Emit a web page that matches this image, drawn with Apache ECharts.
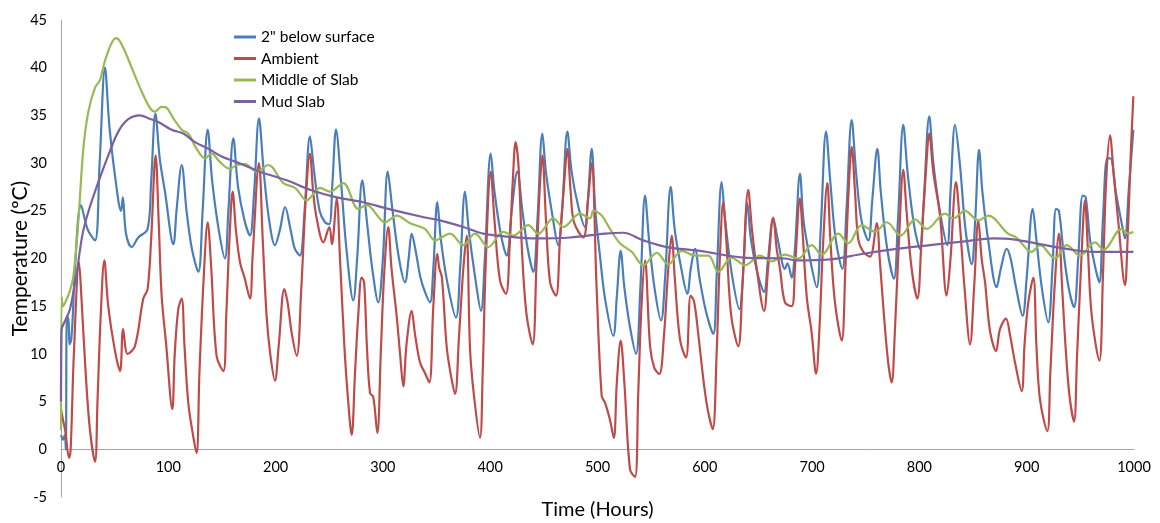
<!DOCTYPE html>
<html>
<head>
<meta charset="utf-8">
<script src="https://cdn.jsdelivr.net/npm/echarts@6/dist/echarts.min.js"></script>
<style>
html,body{margin:0;padding:0;background:#fff;}
#chart{width:1160px;height:523px;}
</style>
</head>
<body>
<div id="chart"></div>
<script>
var seriesNames = ['2" below surface', 'Ambient', 'Middle of Slab', 'Mud Slab'];
var xTicks = [0, 100, 200, 300, 400, 500, 600, 700, 800, 900, 1000];
var yTicks = [-5, 0, 5, 10, 15, 20, 25, 30, 35, 40, 45];

var surface2in = [[0,1.5],[2,1],[3.5,1.5],[4.5,0],[5.5,14],[7,13.5],[8,11],[9.5,11.5],[11,14],[13,19],[18.6,25.6],[25,23],[31.7,21.9],[36,30],[41,40],[45,34],[50.3,28.7],[56,25],[57.6,26.4],[60.6,22.6],[65.9,21.2],[72,22.2],[80.7,23.1],[84,28],[88,35.2],[92,30.5],[96.9,27],[104.7,21.5],[107.8,25.2],[112.5,29.8],[117,25],[122,21],[128,18.6],[132,25],[136.7,33.5],[141,28],[147,23],[152.8,20],[156,25],[160.6,32.6],[165,27.5],[171,24],[176.1,22.4],[180,27],[184.5,34.7],[189,29],[194,24],[199.4,21.4],[204,23],[208.8,25.4],[214,23],[218,21],[222.7,20.3],[227,25],[232,32.8],[236,29],[241,25],[246,23.8],[250,23.6],[253,28],[256.3,33.5],[261,28],[266,21],[272.4,15.6],[276,20],[280.8,28.2],[285,24],[290,19],[295.7,15.4],[300,20],[304.5,29.1],[309,25],[315,20],[320.6,17.5],[324,20],[326.8,22.6],[331,20.5],[335,18],[339.2,16.5],[343.9,15.4],[347,19],[350.7,25.9],[354,22],[360,17.5],[368.1,13.8],[372,19],[376.5,27],[380,23],[386,18],[391.4,14.5],[395,20],[400.5,31],[404,27],[410,22.5],[415.4,20.3],[420,25],[425.3,29.1],[430,25],[435,21],[440.2,18.6],[444,24],[448.6,33.1],[452,29],[458,24.5],[463.4,21.4],[467,25],[471.9,33.3],[476,29],[482,25.5],[488.4,23.3],[491,26],[494.6,31.5],[498,25],[502.3,20.3],[507,15.8],[514.7,11.9],[518,16],[521.6,20.8],[525,17],[530,13],[535.9,10],[540,17],[544.3,26.6],[548,22],[553,17],[559.2,13.5],[563,18],[568.2,27.5],[572,23],[578,19],[583.7,16.3],[587,19],[590.9,21],[595,18],[601,14.5],[607.9,12.1],[611,18],[615.7,28],[619,24],[625,18.5],[632.2,14.7],[636,19],[639.6,25.8],[643,22],[649,18.5],[655.2,16.5],[659,20],[663.8,24.2],[668,22],[674.7,18.9],[677,19.5],[681,18],[684,21],[688.7,28.9],[692,24],[698,20],[704.3,17],[708,23],[713,33.3],[717,28],[722,22],[728.2,18.9],[732,25],[736.9,34.5],[741,29],[746,24],[752.4,21.9],[756,26],[760.8,31.5],[764,27],[770,21],[776.3,17.9],[780,24],[785,34],[789,29],[795,23.5],[800.6,21],[804,26],[809.2,34.9],[813,30],[819,25],[826,21.4],[829,27],[833.2,34],[837.8,29.8],[843,23],[848.7,19.4],[852,24],[855.6,31.4],[858.7,27],[864,22],[872,17],[876,19],[881.3,21],[885,20],[890,17],[896.2,14],[900,18],[905.6,25.2],[909,22],[914,17],[920.1,13.3],[924,19],[927.3,25.2],[930,25],[934,21],[939,17],[944.1,14.9],[948,20],[952.2,26.6],[955,26.4],[959,22],[964,19],[967.7,17.5],[971,24],[975.1,30.5],[978,30.5],[983,27],[988,24],[991.6,22.1],[995,27],[999.4,33.5]];

var ambient = [[0,4.2],[2,3],[4,1.9],[7.5,-0.9],[9,0],[12,10],[16.8,19.6],[19,16],[23,8],[27,2],[31.7,-1.3],[34,5],[37,14],[40.4,19.8],[44,15],[50,10.5],[55,8.2],[57.9,12.6],[62.1,10],[68.9,10.8],[76.7,15.8],[80.7,16.8],[84,22],[88.2,30.8],[91,24],[93.8,16.1],[98,11],[103.7,4.2],[106,10],[109.3,14.7],[112.5,15.8],[115,11],[118.6,4.9],[123,1.5],[126.4,-0.4],[129,8],[133,18],[136.7,23.8],[140,19],[145,9.8],[151.3,8.2],[154,14],[157,22],[160,27],[163,23],[166.8,19.6],[171,18],[176.1,15.8],[178.6,20.3],[184.5,30],[188,22],[191.6,14],[195,10],[199.4,7.2],[203,11],[208.1,16.8],[211,15.5],[215,12.2],[219.7,9.8],[224,17],[228,26],[232,31],[235,27],[238.3,24.2],[244.5,21.7],[250.1,23.3],[252.5,21.5],[256.9,26.3],[260,20],[264,11],[267,6],[270.9,1.5],[274,8],[277,14],[280.2,18],[282.5,17.5],[285,11],[288,5.9],[291,5.5],[294.8,1.7],[298,10],[301,18],[305,23.3],[308,19],[312.8,14],[316,10],[319,6.6],[322,11],[326.8,14.5],[330,12],[334.6,9.1],[339.2,8],[343.3,7],[347,15],[350.7,20.5],[352.5,19],[355,18],[359.4,10.8],[363,8],[367.2,5.8],[371,12],[375,19],[378.1,22.4],[381.2,10.5],[385,5.5],[390.5,1.2],[393,8],[396,20],[400.5,29.1],[404,24],[409.1,17.7],[414.7,16.3],[418,21],[421,28],[423.7,32.2],[426.5,29.5],[430,20],[434,14],[439.6,11],[443,19],[446,27],[448.6,30.8],[452,24],[455.8,17.5],[461.3,16.1],[465,22],[469,28],[471.9,31.5],[475,27],[478.1,23.8],[486.8,22.2],[491,26],[494.6,30],[499.2,16.8],[503.9,5.6],[507,4.9],[511.6,3.1],[515.2,1.2],[518,7],[521.6,11.4],[525,7],[530.3,-2.1],[535,-2.9],[538,6],[541,15],[544.3,19.8],[549,10.8],[553,8.5],[557.6,7.9],[562,12],[566,19],[569.1,22.4],[572,18],[576.9,11.5],[582.5,9.6],[586.8,16.1],[590,15.5],[594,12],[599,7],[603,4],[607.4,2.1],[611,10],[614,20],[617.2,25.9],[620,22],[624.6,14],[631.2,10.8],[635,17],[640.5,27.2],[644,23],[648.4,18.9],[655.2,14.5],[659,19],[663.8,24.3],[667,21],[670.1,18.9],[674.7,15.4],[681,15],[684,19],[688.7,26.3],[691,23],[695,16],[699.6,12.2],[703.7,7.9],[707,13],[710,21],[714.2,27.9],[717,22],[721.3,15.4],[727.6,11.4],[731,19],[734,27],[736.9,31.7],[740,27],[743,22],[747.7,20.7],[754,20.2],[760.2,23.7],[763,20],[767,14],[771,9],[774.2,7],[777,12],[781,22],[785,29.3],[788,25],[792.8,18.9],[798.1,15.8],[802,22],[806,29],[809.2,33.1],[813,29],[819.2,24.5],[825.4,16.1],[829,20],[834.1,28],[837.8,23.5],[842,17],[847.2,11],[851,17],[854.9,24],[858,20],[861.2,17.5],[865.8,12.4],[871.4,10.3],[875.1,12.6],[880.7,13.7],[884.4,12],[889.1,9.1],[895.3,6.1],[898,11],[901.5,15.4],[906.2,18],[909,11],[912.4,5.2],[919.2,1.9],[922,8],[926,17],[930.1,22.6],[933,17],[936.6,10.1],[940,5.5],[944.1,2.9],[947,10],[951,20],[954.3,26.1],[957,21],[960.6,14],[967.7,9.3],[971,18],[974,28],[977.6,32.9],[981,29],[985.4,23.8],[991.6,17.2],[994,22],[997,31],[999.4,37]];

var middleSlab = [[0,2],[0.5,16],[2,15],[4,15.4],[8,16.5],[11.6,18.2],[16.1,23.8],[20.8,31.5],[25.5,35.4],[31.7,37.9],[36.3,38.7],[40.9,40.7],[47.2,42.6],[51.8,43.1],[58,42.1],[65.9,40],[75.2,37.5],[82.9,35.8],[87.6,35.4],[93.8,35.9],[98.5,35.8],[104.7,34.7],[112.5,33.5],[118.6,33.1],[126.4,31.5],[134.2,30.5],[140.4,31],[148.2,30.1],[157.5,29.4],[163.7,29.8],[171.6,29.9],[182.4,29.1],[193.2,29.8],[207.2,27.9],[218.1,27.4],[229,26.1],[241.4,27.4],[250.7,27],[263.1,27.9],[277.1,25.2],[284.9,25.6],[302,23.8],[312.8,24.5],[325.3,23.7],[339.2,23.1],[348.6,21.9],[362.5,22.6],[374.9,21.4],[385.8,22.6],[398.2,21.2],[412.2,22.8],[421.5,22.4],[435.5,23.5],[444.8,22.6],[458.8,24.2],[468.1,23.3],[483.7,24.7],[493,24.2],[496.1,25],[503.9,24.5],[511.6,23.1],[520.9,21.6],[531.9,20.7],[542.7,19.3],[555.2,20.6],[566,19.4],[578.5,20.8],[590.9,20.3],[603.3,20.3],[612.6,18.6],[625,20.1],[637.5,19.3],[651.4,20.3],[662.3,19.7],[674.7,20.4],[687.2,20],[699.6,21.4],[708.9,20.4],[724.4,22.6],[733.7,21.6],[746.2,23.5],[758.6,22.8],[769.5,23.8],[782.6,22.4],[795.9,24.1],[806.8,23.1],[823.9,24.7],[831.6,24.2],[842.4,25],[854.9,24],[864.2,24.5],[882.6,22.6],[890.4,22.2],[904.6,20.7],[912.4,21.4],[926.4,20],[937.3,21.4],[949.7,20.3],[963.7,21.7],[971.4,20.9],[988.5,23.1],[994.7,22.6],[999.4,22.8]];

var mudSlab = [[0,5],[0.5,12.5],[4,13.5],[8.4,14.7],[14.6,18.5],[20,22.5],[25.5,24.9],[34.8,28],[44.1,30.8],[53.4,33.3],[62.7,34.6],[73.6,35],[81.4,34.7],[90.7,34.3],[103.1,33.5],[114,33.1],[124.9,32.2],[137.3,31.5],[149.7,30.7],[163.7,30.1],[185.4,29.1],[210.3,28.2],[232,27.2],[256.9,26.4],[281.7,25.9],[305,25.2],[339.2,24.3],[353.2,24],[374.9,23.3],[393.5,22.6],[415.4,22.3],[443.3,22.1],[474.4,22.2],[507,22.6],[524,22.7],[542.7,21.9],[564.5,21.2],[595.5,20.8],[635.9,20.1],[674.7,20],[685.6,19.8],[716.7,19.9],[747.7,20.5],[778.8,21],[809.9,21.4],[842.4,21.8],[868.9,22.1],[887.5,22],[912.4,21.5],[937.3,21],[962.1,20.7],[999.4,20.7]];

var colors = ['#4A7EBB', '#BE4B48', '#98B954', '#7D60A0'];
var FONT = 'Lato, "Open Sans", sans-serif';
var allData = [surface2in, ambient, middleSlab, mudSlab];

var chart = echarts.init(document.getElementById('chart'), null, {renderer: 'canvas'});
chart.setOption({
  animation: false,
  backgroundColor: '#ffffff',
  color: colors,
  grid: {left: 61, right: 26, top: 20, bottom: 26, containLabel: false, outerBoundsMode: 'none'},
  legend: {
    orient: 'vertical',
    left: 229,
    top: 24,
    padding: 5,
    itemWidth: 22,
    itemHeight: 3,
    itemGap: 5.5,
    icon: 'rect',
    textStyle: {fontFamily: FONT, fontSize: 15.5, color: '#000', lineHeight: 15},
    data: seriesNames
  },
  xAxis: {
    type: 'value',
    min: 0, max: 1000, interval: 100,
    offset: -48,
    name: 'Time (Hours)',
    nameLocation: 'middle',
    nameGap: 51,
    nameTextStyle: {fontFamily: FONT, fontSize: 20, color: '#000'},
    axisLine: {show: true, onZero: false, lineStyle: {color: '#A6A6A6', width: 1}},
    axisTick: {show: false},
    splitLine: {show: false},
    axisLabel: {fontFamily: FONT, fontSize: 14.5, color: '#000', margin: 11,
      formatter: function (v) { return xTicks.indexOf(v) >= 0 ? String(v) : ''; }}
  },
  yAxis: {
    type: 'value',
    min: -5, max: 45, interval: 5,
    name: 'Temperature (ºC)',
    nameLocation: 'middle',
    nameGap: 30,
    nameMoveOverlap: false,
    nameTextStyle: {fontFamily: FONT, fontSize: 21, color: '#000'},
    axisLine: {show: true, onZero: false, lineStyle: {color: '#A6A6A6', width: 1}},
    axisTick: {show: false},
    splitLine: {show: false},
    axisLabel: {fontFamily: FONT, fontSize: 14.5, color: '#000', margin: 14,
      formatter: function (v) { return yTicks.indexOf(v) >= 0 ? String(v) : ''; }}
  },
  series: seriesNames.map(function (n, i) {
    return {
      name: n,
      type: 'line',
      data: allData[i],
      symbol: 'none',
      smooth: 0.35,
      lineStyle: {width: 2.2, color: colors[i]},
      itemStyle: {color: colors[i]},
      z: 2 + i
    };
  })
});
</script>
</body>
</html>
